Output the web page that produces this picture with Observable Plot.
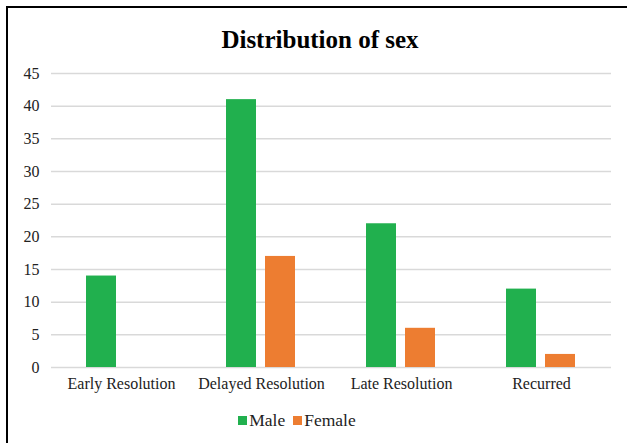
<!DOCTYPE html>
<html>
<head>
<meta charset="utf-8">
<script src="https://cdn.jsdelivr.net/npm/d3@7"></script>
<script src="https://cdn.jsdelivr.net/npm/@observablehq/plot@0.6"></script>
<style>
  html, body { margin: 0; padding: 0; background: #fff; overflow: hidden; }
  #wrap { position: relative; width: 627px; height: 443px; overflow: hidden; font-family: "Liberation Serif", serif; }
  #frame { position: absolute; left: 6px; top: 6px; width: 700px; height: 500px; border-top: 2px solid #000; border-left: 2px solid #000; box-sizing: border-box; }
  #title { position: absolute; left: 0; width: 640px; top: 26px; text-align: center; font-weight: bold; font-size: 25px; color: #000; font-family: "Liberation Serif", serif; }
  #legend { position: absolute; left: 0; width: 594px; top: 410px; text-align: center; font-size: 17.5px; color: #222; font-family: "Liberation Serif", serif; }
  #legend span.sw { display: inline-block; width: 9px; height: 9px; margin-right: 2px; vertical-align: 1px; }
  #legend span.it { margin: 0 4px; }
  #chart { position: absolute; left: 0; top: 0; }
  #chart svg text { font-family: "Liberation Serif", serif; }
</style>
</head>
<body>
<div id="wrap">
  <div id="chart"></div>
  <div id="frame"></div>
  <div id="title">Distribution of sex</div>
  <div id="legend"></div>
</div>
<script>
const categories = ["Early Resolution", "Delayed Resolution", "Late Resolution", "Recurred"];
const series = ["Male", "Female"];
const maleValues = [14, 41, 22, 12];
const femaleValues = [0, 17, 6, 2];
const colors = ["#21B04E", "#ED7D31"];
const yTicks = [0, 5, 10, 15, 20, 25, 30, 35, 40, 45];

const data = [];
categories.forEach((c, i) => {
  data.push({category: c, sex: "Male", value: maleValues[i]});
  data.push({category: c, sex: "Female", value: femaleValues[i]});
});

const plot = Plot.plot({
  width: 627,
  height: 443,
  marginLeft: 50,
  marginRight: 15,
  marginTop: 73,
  marginBottom: 76,
  style: { fontFamily: "Liberation Serif, serif", fontSize: "16px", color: "#222", background: "transparent" },
  fx: { domain: categories, padding: 0, label: null },
  x: { domain: series, paddingInner: 0.225, paddingOuter: 0.87, axis: null },
  y: { domain: [0, 45], ticks: yTicks, label: null },
  color: { domain: series, range: colors },
  marks: [
    Plot.ruleY(yTicks, { stroke: "#d9d9d9", strokeWidth: 1.5 }),
    Plot.barY(data, { fx: "category", x: "sex", y: "value", fill: "sex" }),
    Plot.axisY({ ticks: yTicks, tickSize: 0, tickPadding: 12, fontSize: 16, label: null }),
    Plot.axisFx({ anchor: "bottom", tickSize: 0, tickPadding: 10, fontSize: 16, label: null })
  ]
});
document.getElementById("chart").appendChild(plot);

const legend = document.getElementById("legend");
series.forEach((s, i) => {
  const item = document.createElement("span");
  item.className = "it";
  const sw = document.createElement("span");
  sw.className = "sw";
  sw.style.background = colors[i];
  item.appendChild(sw);
  item.appendChild(document.createTextNode(s));
  legend.appendChild(item);
});
</script>
</body>
</html>
